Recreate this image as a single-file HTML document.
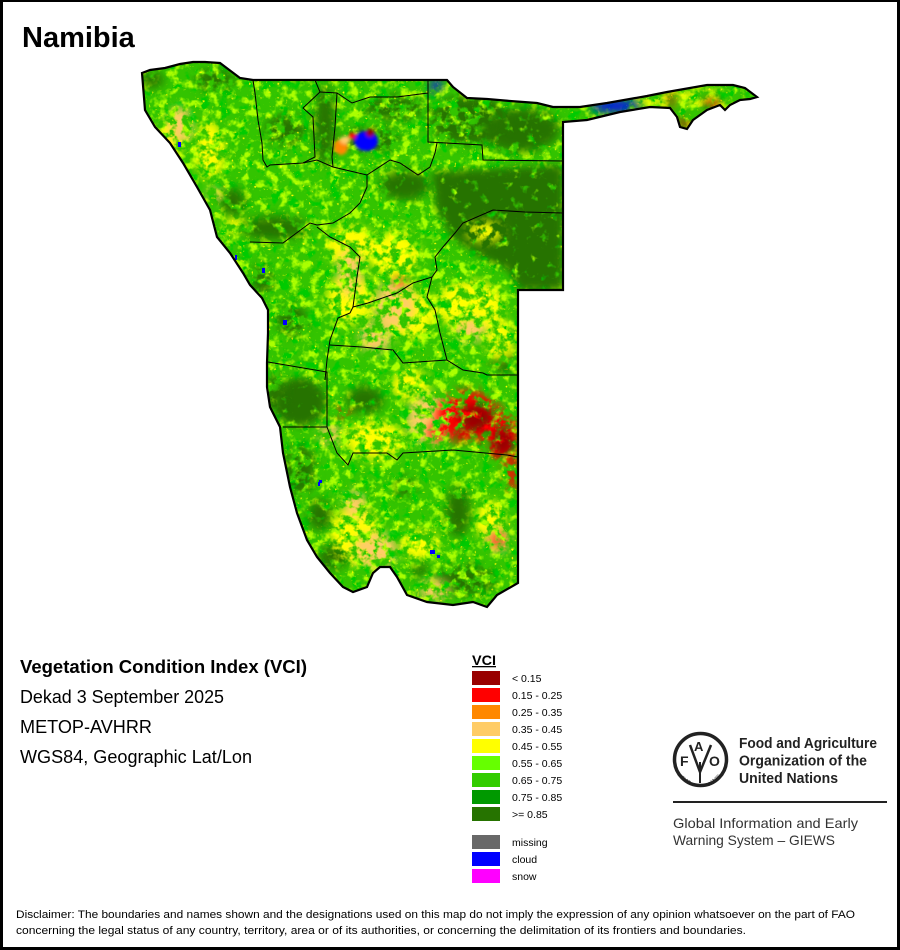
<!DOCTYPE html>
<html><head><meta charset="utf-8"><style>
html,body{margin:0;padding:0;background:#fff;}
svg{display:block;}
text{font-family:"Liberation Sans",Arial,sans-serif;}
</style></head><body>
<svg width="900" height="950" viewBox="0 0 900 950" xmlns="http://www.w3.org/2000/svg">
<defs>
<clipPath id="nam"><path id="outl" d="M142,73 L150,70 L165,68 L180,64 L193,62 L205,62 L220,63 L232,72 L240,78 L253,80 L447,80 L453,87 L467,98 L487,99 L510,101 L537,103 L553,107 L580,107 L607,103 L647,96 L667,92 L707,85 L733,85 L745,88 L757,97 L750,99 L740,100 L730,105 L725,110 L720,105 L707,110 L693,120 L687,129 L680,127 L677,117 L670,108 L650,107 L620,112 L587,120 L563,122 L563,290 L518,290 L518,583 L497,595 L487,607 L473,602 L453,605 L427,602 L407,595 L397,577 L390,567 L380,567 L373,573 L367,587 L353,592 L343,587 L330,573 L317,557 L307,540 L297,513 L290,487 L283,453 L280,427 L270,407 L267,387 L267,363 L268,333 L268,310 L262,298 L250,285 L243,273 L230,253 L217,237 L210,210 L197,187 L183,163 L170,143 L155,127 L145,110 Z"/></clipPath>
<filter id="sp" filterUnits="userSpaceOnUse" x="130" y="50" width="640" height="570">
 <feTurbulence type="fractalNoise" baseFrequency="0.1" numOctaves="3" seed="5" result="n"/>
 <feColorMatrix in="n" type="matrix" values="0 0 0 0 0.4  0 0 0 0 1  0 0 0 0 0  5 0 0 0 -2.5" result="a"/>
 <feColorMatrix in="n" type="matrix" values="0 0 0 0 0  0 0 0 0 0.6  0 0 0 0 0  0 6 0 0 -3.3" result="c"/>
 <feTurbulence type="fractalNoise" baseFrequency="0.35" numOctaves="1" seed="9" result="n2"/>
 <feColorMatrix in="n2" type="matrix" values="0 0 0 0 1  0 0 0 0 1  0 0 0 0 0  0 0 8 0 -5.4" result="y"/>
 <feMerge><feMergeNode in="a"/><feMergeNode in="c"/><feMergeNode in="y"/></feMerge>
</filter>
<filter id="tex" filterUnits="userSpaceOnUse" x="130" y="50" width="640" height="570">
 <feGaussianBlur in="SourceGraphic" stdDeviation="5" result="b"/>
 <feTurbulence type="fractalNoise" baseFrequency="0.12" numOctaves="3" seed="11" result="n"/>
 <feColorMatrix in="n" type="matrix" values="0 0 0 0 0  0 0 0 0 0  0 0 0 0 0  5 0 0 0 -2.0" result="m"/>
 <feComposite in="b" in2="m" operator="in"/>
</filter>
<filter id="tex2" filterUnits="userSpaceOnUse" x="130" y="50" width="640" height="570">
 <feGaussianBlur in="SourceGraphic" stdDeviation="5" result="b"/>
 <feTurbulence type="fractalNoise" baseFrequency="0.09" numOctaves="3" seed="23" result="n"/>
 <feColorMatrix in="n" type="matrix" values="0 0 0 0 0  0 0 0 0 0  0 0 0 0 0  5 0 0 0 -1.3" result="m"/>
 <feComposite in="b" in2="m" operator="in"/>
</filter>
<filter id="tex3" filterUnits="userSpaceOnUse" x="130" y="50" width="640" height="570">
 <feGaussianBlur in="SourceGraphic" stdDeviation="4" result="b"/>
 <feTurbulence type="fractalNoise" baseFrequency="0.1" numOctaves="3" seed="31" result="n"/>
 <feColorMatrix in="n" type="matrix" values="0 0 0 0 0  0 0 0 0 0  0 0 0 0 0  5 0 0 0 -1.05" result="m"/>
 <feComposite in="b" in2="m" operator="in"/>
</filter>
<filter id="bl" filterUnits="userSpaceOnUse" x="130" y="50" width="640" height="570"><feGaussianBlur stdDeviation="1.5"/></filter>
</defs>

<!-- frame -->
<rect x="0" y="0" width="900" height="950" fill="#fff"/>
<rect x="0" y="0" width="3" height="950" fill="#000"/>
<rect x="0" y="0" width="900" height="2" fill="#000"/>
<rect x="897" y="0" width="3" height="950" fill="#000"/>
<rect x="0" y="947" width="900" height="3" fill="#000"/>

<text x="22" y="47" font-size="29" font-weight="bold" fill="#000">Namibia</text>

<!-- map -->
<g clip-path="url(#nam)">
 <rect x="130" y="50" width="640" height="570" fill="#33c400"/>
 <rect x="130" y="50" width="640" height="570" filter="url(#sp)"/>
 <!-- dark green, very strong -->
 <g filter="url(#tex3)" fill="#267300">
  <path d="M432,172 L563,165 L563,290 L520,290 L508,270 L478,255 L452,238 L436,208 Z"/>
  <ellipse cx="300" cy="402" rx="26" ry="24"/>
 </g>
 <!-- dark green, strong -->
 <g filter="url(#tex2)" fill="#267300">
  <ellipse cx="405" cy="185" rx="25" ry="15"/>
  <ellipse cx="325" cy="125" rx="10" ry="40"/>
  <ellipse cx="152" cy="80" rx="12" ry="8"/>
  <ellipse cx="233" cy="202" rx="12" ry="14"/>
  <ellipse cx="275" cy="228" rx="33" ry="12"/>
  <ellipse cx="320" cy="515" rx="12" ry="15"/>
  <ellipse cx="333" cy="557" rx="15" ry="12"/>
  <ellipse cx="458" cy="512" rx="12" ry="25"/>
  <ellipse cx="420" cy="570" rx="8" ry="7"/>
  <ellipse cx="365" cy="400" rx="18" ry="14"/>
  <ellipse cx="520" cy="130" rx="40" ry="22"/>
 </g>
 <!-- dark green, moderate -->
 <g filter="url(#tex)" fill="#267300">
  <ellipse cx="470" cy="120" rx="40" ry="25"/>
  <ellipse cx="395" cy="108" rx="30" ry="12"/>
  <ellipse cx="285" cy="130" rx="20" ry="15"/>
  <ellipse cx="215" cy="80" rx="20" ry="10"/>
  <ellipse cx="275" cy="395" rx="10" ry="20"/>
  <ellipse cx="262" cy="280" rx="10" ry="15"/>
  <ellipse cx="292" cy="320" rx="15" ry="15"/>
  <ellipse cx="465" cy="580" rx="30" ry="15"/>
  <ellipse cx="405" cy="487" rx="10" ry="10"/>
  <ellipse cx="300" cy="470" rx="15" ry="25"/>
  <ellipse cx="505" cy="362" rx="14" ry="10"/>
  <ellipse cx="370" cy="140" rx="30" ry="12"/>
  <ellipse cx="285" cy="560" rx="20" ry="20"/>
 </g>
 <!-- yellow -->
 <g filter="url(#tex)" fill="#ffff00">
  <ellipse cx="350" cy="245" rx="25" ry="20"/>
  <ellipse cx="395" cy="255" rx="25" ry="25"/>
  <ellipse cx="350" cy="300" rx="25" ry="25"/>
  <ellipse cx="410" cy="315" rx="25" ry="25"/>
  <ellipse cx="470" cy="305" rx="35" ry="25"/>
  <ellipse cx="500" cy="340" rx="15" ry="20"/>
  <ellipse cx="375" cy="440" rx="30" ry="20"/>
  <ellipse cx="410" cy="385" rx="20" ry="15"/>
  <ellipse cx="355" cy="535" rx="25" ry="30"/>
  <ellipse cx="420" cy="545" rx="20" ry="15"/>
  <ellipse cx="490" cy="520" rx="15" ry="20"/>
  <ellipse cx="210" cy="150" rx="15" ry="30"/>
  <ellipse cx="170" cy="140" rx="12" ry="20"/>
  <ellipse cx="235" cy="225" rx="10" ry="8"/>
  <ellipse cx="485" cy="232" rx="18" ry="10"/>
  <ellipse cx="650" cy="100" rx="20" ry="6"/>
  <ellipse cx="700" cy="96" rx="25" ry="6"/>
 </g>
 <!-- light orange -->
 <g filter="url(#tex)" fill="#ffcc66">
  <ellipse cx="180" cy="125" rx="12" ry="18"/>
  <ellipse cx="350" cy="272" rx="12" ry="25"/>
  <ellipse cx="395" cy="305" rx="20" ry="25"/>
  <ellipse cx="375" cy="338" rx="15" ry="15"/>
  <ellipse cx="470" cy="330" rx="15" ry="12"/>
  <ellipse cx="355" cy="505" rx="10" ry="15"/>
  <ellipse cx="375" cy="550" rx="22" ry="18"/>
  <ellipse cx="435" cy="590" rx="15" ry="10"/>
  <ellipse cx="432" cy="420" rx="25" ry="25"/>
  <ellipse cx="498" cy="540" rx="12" ry="12"/>
  <ellipse cx="215" cy="195" rx="7" ry="6"/>
  <ellipse cx="330" cy="435" rx="10" ry="10"/>
 </g>
 <!-- red -->
 <g filter="url(#tex)">
  <ellipse cx="468" cy="415" rx="32" ry="24" fill="#ff0000"/>
  <ellipse cx="500" cy="435" rx="18" ry="24" fill="#ff0000"/>
  <ellipse cx="512" cy="472" rx="6" ry="20" fill="#ff0000"/>
  <ellipse cx="438" cy="432" rx="10" ry="8" fill="#ff0000"/>
  <ellipse cx="343" cy="412" rx="6" ry="5" fill="#ff0000"/>
  <ellipse cx="400" cy="282" rx="5" ry="4" fill="#ff0000"/>
  <ellipse cx="498" cy="540" rx="6" ry="6" fill="#ff0000"/>
 </g>
 <g filter="url(#tex2)">
  <ellipse cx="476" cy="418" rx="18" ry="14" fill="#990000"/>
  <ellipse cx="503" cy="442" rx="12" ry="14" fill="#990000"/>
  <ellipse cx="458" cy="435" rx="8" ry="6" fill="#cc0000"/>
 </g>
 <g filter="url(#tex2)">
  <ellipse cx="712" cy="104" rx="8" ry="4" fill="#ff0000"/>
  <ellipse cx="684" cy="123" rx="5" ry="5" fill="#dd0000"/>
  <rect x="669" y="92" width="4" height="16" fill="#ff0000"/>
 </g>
 <!-- cloud -->
 <g filter="url(#bl)">
  <ellipse cx="341" cy="147" rx="7" ry="8" fill="#ff8800"/>
  <ellipse cx="345" cy="140" rx="5" ry="4" fill="#ffcc66"/>
  <ellipse cx="366" cy="141" rx="12" ry="10" fill="#0000ff"/>
  <ellipse cx="370" cy="133" rx="4" ry="4" fill="#990000"/>
  <ellipse cx="352" cy="136" rx="4" ry="3" fill="#ff0000"/>
 </g>
 <g filter="url(#tex2)" fill="#0000ff">
  <ellipse cx="615" cy="106" rx="25" ry="6"/>
  <ellipse cx="436" cy="86" rx="5" ry="7"/>
 </g>
 <g fill="#0000ff">
  <rect x="178" y="142" width="3" height="5"/>
  <rect x="262" y="268" width="3" height="5"/>
  <rect x="283" y="320" width="4" height="5"/>
  <rect x="318" y="482" width="2" height="4"/>
  <rect x="430" y="550" width="5" height="4"/>
  <rect x="437" y="555" width="3" height="3"/>
  <rect x="235" y="255" width="2" height="5"/>
  <rect x="319" y="480" width="3" height="3"/>
 </g>
</g>

<!-- internal boundaries -->
<g fill="none" stroke="#000" stroke-width="1">
 <path d="M253,80 L255,93 L258,120 L262,143 L263,160 L267,167 L270,165 L303,163 L317,160 L333,167 L367,175"/>
 <path d="M315,80 L320,92 L303,108 L313,117 L315,157 L303,163"/>
 <path d="M320,92 L337,93 L352,103 L370,97 L397,97 L428,93"/>
 <path d="M337,93 L335,127 L332,157 L333,167"/>
 <path d="M428,80 L428,142 L482,145 L483,160 L563,161"/>
 <path d="M367,175 L390,160 L400,163 L418,175 L430,167 L435,153 L437,143"/>
 <path d="M367,175 L367,187 L360,203 L350,213 L333,223 L317,225 L310,223 L283,243 L250,242"/>
 <path d="M317,227 L330,237 L350,247 L360,257 L357,277 L353,307 L350,313 L338,318 L330,340 L327,360 L325,380"/>
 <path d="M563,213 L525,212 L493,210 L463,223 L455,233 L443,247 L435,257 L437,270 L432,277 L413,283 L397,293 L368,303 L353,307"/>
 <path d="M432,277 L427,297 L435,310 L440,333 L447,360 L463,370 L483,373 L487,375 L518,375"/>
 <path d="M330,345 L362,347 L393,350 L403,363 L447,360"/>
 <path d="M268,362 L327,372 L327,427"/>
 <path d="M283,427 L327,427 L337,453 L348,465 L353,453 L387,453 L397,460 L403,453 L453,450 L507,455 L518,457"/>
</g>
<use href="#outl" fill="none" stroke="#000" stroke-width="2.2"/>

<!-- info text -->
<text x="20" y="673" font-size="18.4" font-weight="bold" textLength="287" lengthAdjust="spacingAndGlyphs">Vegetation Condition Index (VCI)</text>
<text x="20" y="703" font-size="18" textLength="204" lengthAdjust="spacingAndGlyphs">Dekad 3 September 2025</text>
<text x="20" y="733" font-size="18" textLength="132" lengthAdjust="spacingAndGlyphs">METOP-AVHRR</text>
<text x="20" y="763" font-size="18" textLength="232" lengthAdjust="spacingAndGlyphs">WGS84, Geographic Lat/Lon</text>

<!-- legend -->
<text x="472" y="665" font-size="14" font-weight="bold" textLength="24" lengthAdjust="spacingAndGlyphs">VCI</text>
<rect x="472" y="666" width="24" height="1.3" fill="#000"/>
<g>
 <rect x="472" y="671" width="28" height="14" fill="#990000"/>
 <rect x="472" y="688" width="28" height="14" fill="#ff0000"/>
 <rect x="472" y="705" width="28" height="14" fill="#ff8800"/>
 <rect x="472" y="722" width="28" height="14" fill="#ffcc66"/>
 <rect x="472" y="739" width="28" height="14" fill="#ffff00"/>
 <rect x="472" y="756" width="28" height="14" fill="#66ff00"/>
 <rect x="472" y="773" width="28" height="14" fill="#33cc00"/>
 <rect x="472" y="790" width="28" height="14" fill="#009900"/>
 <rect x="472" y="807" width="28" height="14" fill="#267300"/>
 <rect x="472" y="835" width="28" height="14" fill="#686868"/>
 <rect x="472" y="852" width="28" height="14" fill="#0000ff"/>
 <rect x="472" y="869" width="28" height="14" fill="#ff00ff"/>
</g>
<g font-size="10.5" fill="#000">
 <text x="512" y="682">&lt; 0.15</text>
 <text x="512" y="699">0.15 - 0.25</text>
 <text x="512" y="716">0.25 - 0.35</text>
 <text x="512" y="733">0.35 - 0.45</text>
 <text x="512" y="750">0.45 - 0.55</text>
 <text x="512" y="767">0.55 - 0.65</text>
 <text x="512" y="784">0.65 - 0.75</text>
 <text x="512" y="801">0.75 - 0.85</text>
 <text x="512" y="818">&gt;= 0.85</text>
 <text x="512" y="846">missing</text>
 <text x="512" y="863">cloud</text>
 <text x="512" y="880">snow</text>
</g>

<!-- FAO logo -->
<g>
 <circle cx="700.5" cy="759.5" r="26" fill="none" stroke="#222" stroke-width="3.5"/>
 <text x="680" y="766" font-size="14" font-weight="bold" fill="#222">F</text>
 <text x="694" y="751" font-size="13" font-weight="bold" fill="#222">A</text>
 <text x="709" y="766" font-size="14" font-weight="bold" fill="#222">O</text>
 <path d="M690,745 L700,772 L711,745" fill="none" stroke="#222" stroke-width="2.5"/>
 <path d="M700,762 L700,783" stroke="#222" stroke-width="2"/>
 <text x="681" y="781" font-size="5" fill="#222" transform="rotate(35 685 779)">FIAT</text>
 <text x="706" y="783" font-size="5" fill="#222" transform="rotate(-40 712 780)">PANIS</text>
</g>
<g fill="#222" font-weight="bold" font-size="14.5">
 <text x="739" y="748" textLength="138" lengthAdjust="spacingAndGlyphs">Food and Agriculture</text>
 <text x="739" y="765.5" textLength="128" lengthAdjust="spacingAndGlyphs">Organization of the</text>
 <text x="739" y="783" textLength="99" lengthAdjust="spacingAndGlyphs">United Nations</text>
</g>
<rect x="673" y="801" width="214" height="2" fill="#222"/>
<g fill="#333" font-size="14">
 <text x="673" y="828" textLength="185" lengthAdjust="spacingAndGlyphs">Global Information and Early</text>
 <text x="673" y="845" textLength="162" lengthAdjust="spacingAndGlyphs">Warning System – GIEWS</text>
</g>

<!-- disclaimer -->
<g font-size="11" fill="#000">
 <text x="16" y="918" textLength="839" lengthAdjust="spacingAndGlyphs">Disclaimer: The boundaries and names shown and the designations used on this map do not imply the expression of any opinion whatsoever on the part of FAO</text>
 <text x="16" y="934" textLength="730" lengthAdjust="spacingAndGlyphs">concerning the legal status of any country, territory, area or of its authorities, or concerning the delimitation of its frontiers and boundaries.</text>
</g>
</svg>
</body></html>
